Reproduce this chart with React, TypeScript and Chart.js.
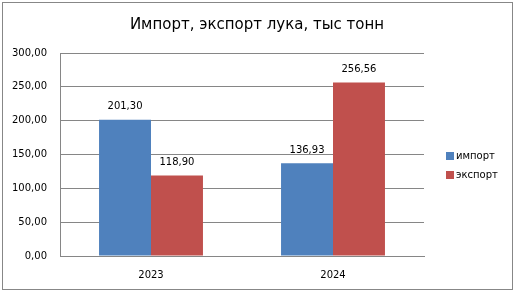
import React, { useEffect, useRef } from "react";
import { Chart, registerables } from "chart.js";

Chart.register(...registerables);

const categories = ["2023", "2024"];
const importValues = [201.3, 136.93];
const exportValues = [118.9, 256.56];
const seriesNames = ["импорт", "экспорт"];
const titleText = "Импорт, экспорт лука, тыс тонн";
const yTicks = [0, 50, 100, 150, 200, 250, 300];

const FONT = "'DejaVu Sans', Verdana, sans-serif";
const fmt = (v: number) => v.toFixed(2).replace(".", ",");

const decorPlugin = {
  id: "decor",
  beforeDraw(chart: any) {
    const ctx = chart.ctx;
    ctx.save();
    ctx.fillStyle = "#ffffff";
    ctx.fillRect(0, 0, chart.width, chart.height);
    ctx.strokeStyle = "#878787";
    ctx.lineWidth = 1;
    ctx.strokeRect(2.5, 2.5, 510, 287);
    ctx.restore();
  },
  afterDatasetsDraw(chart: any) {
    const ctx = chart.ctx;
    ctx.save();
    ctx.font = `10px ${FONT}`;
    ctx.fillStyle = "#000000";
    ctx.textAlign = "center";
    ctx.textBaseline = "middle";
    chart.data.datasets.forEach((ds: any, i: number) => {
      const meta = chart.getDatasetMeta(i);
      meta.data.forEach((el: any, j: number) => {
        ctx.fillText(fmt(ds.data[j]), el.x, el.y - 13);
      });
    });
    ctx.restore();
  },
  afterDraw(chart: any) {
    const ctx = chart.ctx;
    const area = chart.chartArea;
    ctx.save();
    // title
    ctx.font = `15px ${FONT}`;
    ctx.fillStyle = "#000000";
    ctx.textAlign = "center";
    ctx.textBaseline = "middle";
    ctx.fillText(titleText, 257, 25);
    // legend
    ctx.font = `10px ${FONT}`;
    ctx.textAlign = "left";
    chart.data.datasets.forEach((ds: any, i: number) => {
      const y = 152 + i * 19;
      const x = area.right + 22;
      ctx.fillStyle = ds.backgroundColor;
      ctx.fillRect(x, y, 8, 8);
      ctx.fillStyle = "#000000";
      ctx.fillText(ds.label, x + 10, y + 4.5);
    });
    ctx.restore();
  },
};

export default function App() {
  const ref = useRef<HTMLCanvasElement>(null);
  useEffect(() => {
    if (!ref.current) return;
    const chart = new Chart(ref.current, {
      type: "bar",
      data: {
        labels: categories,
        datasets: [
          {
            label: seriesNames[0],
            data: importValues,
            backgroundColor: "#4F81BD",
            categoryPercentage: 0.571,
            barPercentage: 1,
          },
          {
            label: seriesNames[1],
            data: exportValues,
            backgroundColor: "#C0504D",
            categoryPercentage: 0.571,
            barPercentage: 1,
          },
        ],
      },
      options: {
        animation: false,
        responsive: false,
        maintainAspectRatio: false,
        devicePixelRatio: 1,
        layout: { padding: { left: 0, top: 53, right: 92, bottom: 0 } },
        plugins: {
          legend: { display: false },
          title: { display: false },
          tooltip: { enabled: false },
        },
        scales: {
          x: {
            grid: { display: false, drawTicks: false },
            border: { display: true, color: "#868686", width: 1 },
            ticks: { font: { family: FONT, size: 10 }, color: "#000000", padding: 13 },
            afterFit: (s: any) => {
              s.height = 37;
            },
          },
          y: {
            min: 0,
            max: 300,
            afterBuildTicks: (s: any) => {
              s.ticks = yTicks.map((v) => ({ value: v }));
            },
            grid: { color: "#868686", drawTicks: false },
            border: { display: true, color: "#868686", width: 1 },
            ticks: {
              font: { family: FONT, size: 10 },
              color: "#000000",
              padding: 13,
              callback: (v: any) => fmt(Number(v)),
            },
            afterFit: (s: any) => {
              s.width = 60;
            },
          },
        },
      },
      plugins: [decorPlugin],
    });
    return () => chart.destroy();
  }, []);
  return (
    <div style={{ position: "fixed", left: 0, top: 0, width: 516, height: 293 }}>
      <canvas ref={ref} width={516} height={293} style={{ width: 516, height: 293, display: "block" }} />
    </div>
  );
}
